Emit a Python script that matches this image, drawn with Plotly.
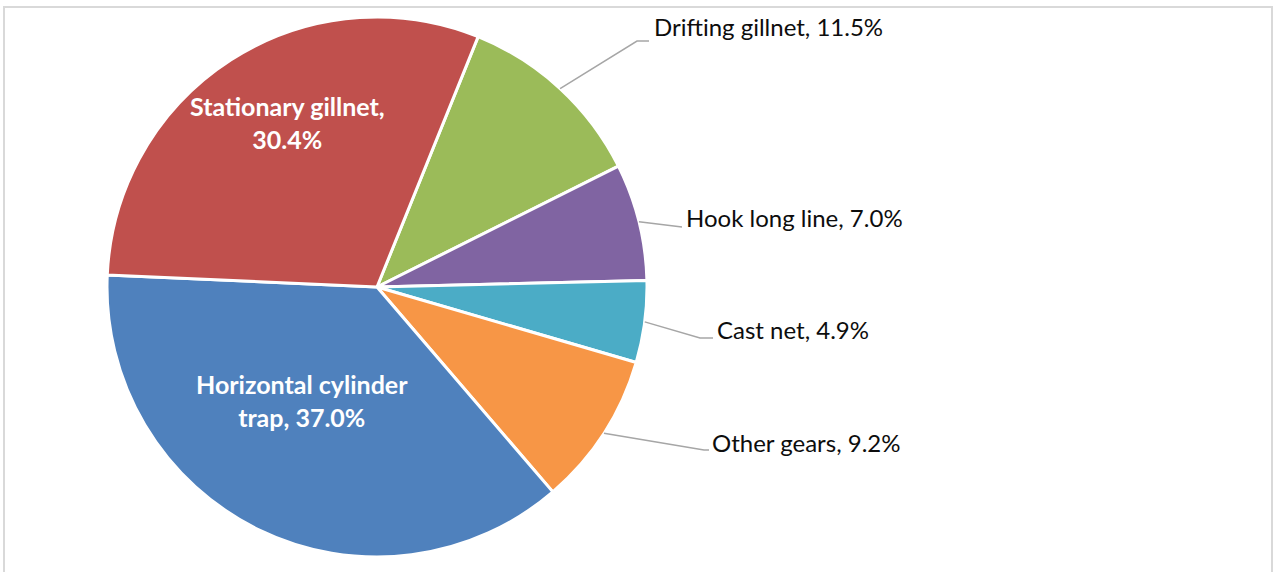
import math
import plotly.graph_objects as go

# Share of catch by fishing gear (%), listed clockwise
gears = ["Drifting gillnet", "Hook long line", "Cast net", "Other gears",
         "Horizontal cylinder trap", "Stationary gillnet"]
shares = [11.5, 7.0, 4.9, 9.2, 37.0, 30.4]
colors = ["#9BBB59", "#8064A2", "#4BACC6", "#F79646", "#4F81BD", "#C0504D"]

W, H = 1274, 572
CX, CY, R = 377, 287, 270      # pie centre and radius in pixels
START = 22                     # first slice starts this many degrees clockwise from 12 o'clock
FONT = "Lato"


def px(x, y):
    """Pixel position -> paper coordinates."""
    return x / W, 1 - y / H


fig = go.Figure(go.Pie(
    labels=gears, values=shares, sort=False, direction="clockwise",
    rotation=START, textinfo="none", hoverinfo="label+percent",
    marker=dict(colors=colors, line=dict(color="white", width=3)),
    domain=dict(x=[(CX - R) / W, (CX + R) / W], y=[1 - (CY + R) / H, 1 - (CY - R) / H]),
    showlegend=False,
))

# slice mid-angles (degrees clockwise from 12 o'clock)
total = sum(shares)
mids, acc = {}, START
for g, v in zip(gears, shares):
    span = 360 * v / total
    mids[g] = acc + span / 2
    acc += span

annotations, shapes = [], []

# outside labels: leader-line elbow, line end and label anchor (pixels)
outside = {
    "Drifting gillnet": ((637, 41), (649, 41), (652, 27)),
    "Hook long line": ((682, 227), (682, 227), (684, 218)),
    "Cast net": ((700, 338), (713, 338), (715, 329)),
    "Other gears": ((704, 450), (709, 450), (710, 442)),
}
for g, v in zip(gears, shares):
    if g in outside:
        a = math.radians(mids[g])
        sx, sy = CX + R * math.sin(a), CY - R * math.cos(a)
        (ex, ey), (fx, fy), (tx, ty) = outside[g]
        p = [px(sx, sy), px(ex, ey), px(fx, fy)]
        shapes.append(dict(type="path", xref="paper", yref="paper",
                           path="M {} {} L {} {} L {} {}".format(p[0][0], p[0][1], p[1][0], p[1][1], p[2][0], p[2][1]),
                           line=dict(color="#A6A6A6", width=1.5)))
        x, y = px(tx, ty)
        annotations.append(dict(x=x, y=y, xref="paper", yref="paper", xanchor="left", yanchor="middle",
                                text=f"{g}, {v:.1f}%", showarrow=False,
                                font=dict(family=FONT, size=24, color="#0d0d0d")))

# inside labels (bold, white, wrapped)
inside = {
    "Stationary gillnet": ((287, 123), "Stationary gillnet,<br>{v:.1f}%"),
    "Horizontal cylinder trap": ((302, 400), "Horizontal cylinder<br>trap, {v:.1f}%"),
}
for g, v in zip(gears, shares):
    if g in inside:
        (tx, ty), fmt = inside[g]
        x, y = px(tx, ty)
        annotations.append(dict(x=x, y=y, xref="paper", yref="paper", xanchor="center", yanchor="middle",
                                text="<b>" + fmt.format(v=v) + "</b>", showarrow=False,
                                font=dict(family=FONT, size=25, color="white")))

# chart-area border
shapes.append(dict(type="rect", xref="paper", yref="paper", x0=4 / W, x1=1272 / W,
                   y0=-0.1, y1=1 - 7 / H, line=dict(color="#D9D9D9", width=2), layer="below"))

fig.update_layout(width=W, height=H, margin=dict(l=0, r=0, t=0, b=0),
                  paper_bgcolor="white", plot_bgcolor="white",
                  annotations=annotations, shapes=shapes)

fig.write_html("out.html")
